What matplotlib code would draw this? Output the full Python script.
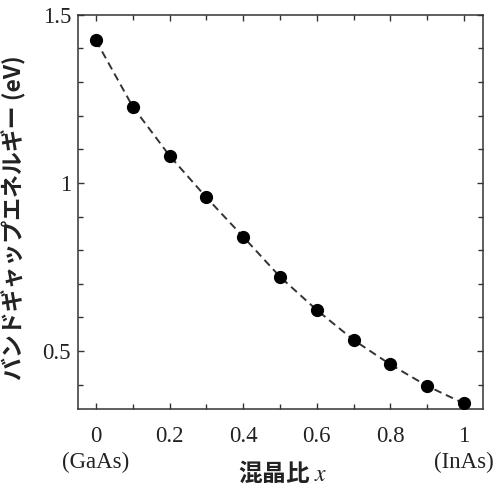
"""InGaAs band gap vs. composition x (GaAs -> InAs)."""

import matplotlib
matplotlib.use('Agg')
import matplotlib.pyplot as plt
from matplotlib.ticker import MultipleLocator, FixedLocator

plt.rcParams['mathtext.fontset'] = 'stix'

# data
x_ratio = [0.0, 0.1, 0.2, 0.3, 0.4, 0.5, 0.6, 0.7, 0.8, 0.9, 1.0]
band_gap = [1.424, 1.227, 1.081, 0.957, 0.840, 0.721, 0.622, 0.533, 0.460, 0.396, 0.344]

x_ticks = [0, 0.2, 0.4, 0.6, 0.8, 1.0]
x_ticklabels = ['0\n(GaAs)', '0.2', '0.4', '0.6', '0.8', '1\n(InAs)']
y_ticks = [0.5, 1.0, 1.5]
y_ticklabels = ['0.5', '1', '1.5']

JP = ['Noto Sans CJK JP', 'DejaVu Sans']

fig = plt.figure(figsize=(4.93, 4.96), dpi=100)
ax = fig.add_axes([0.158, 0.175, 0.822, 0.795])

ax.plot(x_ratio, band_gap, linestyle=(0, (4, 2.5)), color='#333333', lw=1.4, zorder=2)
ax.plot(x_ratio, band_gap, 'o', color='black', ms=8.5, zorder=3)

ax.set_xlim(-0.049, 1.052)
ax.set_ylim(0.327, 1.5)

ax.xaxis.set_major_locator(FixedLocator(x_ticks))
ax.set_xticklabels(x_ticklabels, family='Liberation Serif', fontsize=16.5, linespacing=1.3)
ax.xaxis.set_minor_locator(MultipleLocator(0.1))
ax.yaxis.set_major_locator(FixedLocator(y_ticks))
ax.set_yticklabels(y_ticklabels, family='Liberation Serif', fontsize=16.5)
ax.yaxis.set_minor_locator(MultipleLocator(0.1))

ax.tick_params(which='both', direction='in', top=True, right=True, colors='#333333',
               labelcolor='#222222')
ax.tick_params(which='major', length=4.5, width=1)
ax.tick_params(axis='x', which='major', pad=12)
ax.tick_params(axis='y', which='major', pad=5)
ax.tick_params(which='minor', length=3.5, width=1)
for s in ax.spines.values():
    s.set_color('#333333')
    s.set_linewidth(1.1)

ax.set_ylabel('バンドギャップエネルギー (eV)', family=JP, fontweight='bold',
              fontsize=16.5, color='#222222')
ax.yaxis.set_label_coords(-0.128, 0.486)
ax.set_xlabel('混晶比 $x$', family=JP, fontweight='bold', fontsize=17, color='#222222')
ax.xaxis.set_label_coords(0.505, -0.128)

fig.savefig('out.png', dpi=100)
